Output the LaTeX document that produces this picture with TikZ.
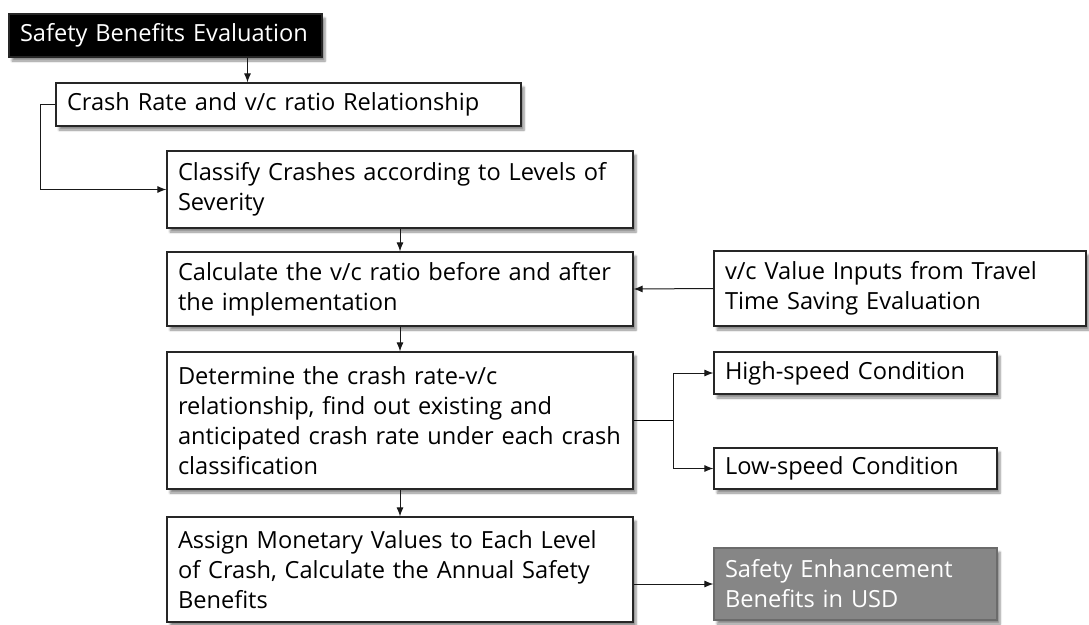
\documentclass[tikz,border=0pt]{standalone}
\usepackage{fontspec}
\setmainfont{Open Sans}
\usetikzlibrary{positioning,arrows.meta,shadows.blur}

\definecolor{usdgray}{RGB}{134,134,134}

\tikzset{
  stepbox/.style={draw=black!85, line width=1.2pt, fill=white,
    blur shadow={shadow xshift=3pt, shadow yshift=-4pt, shadow blur steps=6, shadow opacity=45},
    align=left, inner xsep=11pt, inner ysep=0pt, font=\fontsize{23.6}{30}\selectfont},
  link/.style={-{Latex[length=9pt,width=7pt]}, line width=1pt, draw=black!90}
}

\begin{document}
\begin{tikzpicture}[x=1pt,y=-1pt]
  \useasboundingbox (0,0) rectangle (1089,624);

  % main column
  \node[stepbox, fill=black, text=white, text width=291pt, minimum height=43pt] (title) at (165.5,35.5) {Safety Benefits Evaluation};
  \node[stepbox, text width=443pt, minimum height=43pt] (rel) at (288.5,104.5) {Crash Rate and v/c ratio Relationship};
  \node[stepbox, text width=444pt, minimum height=77pt] (classify) at (400,189.5) {Classify Crashes according to Levels of\\Severity};
  \node[stepbox, text width=444pt, minimum height=74pt] (calc) at (400,289) {Calculate the v/c ratio before and after\\the implementation};
  \node[stepbox, text width=444pt, minimum height=137pt] (determine) at (400,420.5) {Determine the crash rate-v/c\\relationship, find out existing and\\anticipated crash rate under each crash\\classification};
  \node[stepbox, text width=444pt, minimum height=105pt] (assign) at (400,569.5) {Assign Monetary Values to Each Level\\of Crash, Calculate the Annual Safety\\Benefits};

  % right column
  \node[stepbox, text width=350pt, minimum height=75pt] (vcin) at (900,288.5) {v/c Value Inputs from Travel\\Time Saving Evaluation};
  \node[stepbox, text width=261pt, minimum height=42pt] (high) at (855.5,373) {High-speed Condition};
  \node[stepbox, text width=261pt, minimum height=41pt] (low) at (855.5,468.5) {Low-speed Condition};
  \node[stepbox, draw=usdgray!80!black, fill=usdgray, text=white, text width=261pt, minimum height=72pt] (usd) at (855.5,584) {Safety Enhancement\\Benefits in USD};

  % connectors
  \draw[link] ([xshift=82pt]title.south) -- ([xshift=82pt]title.south |- rel.north);
  \draw[link] (rel.west) -- ++(-15,0) |- (classify.west);
  \draw[link] (classify.south) -- (calc.north);
  \draw[link] (calc.south) -- (determine.north);
  \draw[link] (determine.south) -- (assign.north);
  \draw[link] (vcin.west) -- (calc.east);
  \draw[line width=1pt] (determine.east) -- ++(40,0) coordinate (split);
  \draw[link] (split) |- (high.west);
  \draw[link] (split) |- (low.west);
  \draw[link] (assign.east |- usd.west) -- (usd.west);
\end{tikzpicture}
\end{document}
